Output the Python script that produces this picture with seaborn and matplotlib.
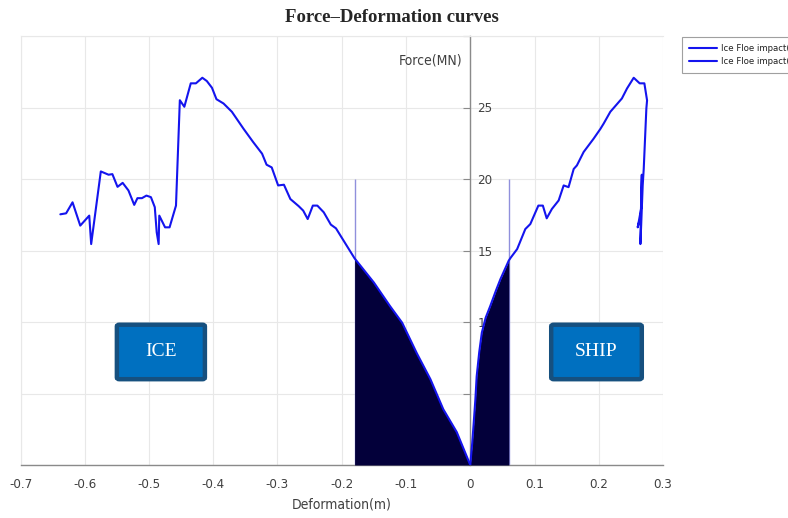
import matplotlib
matplotlib.use("Agg")
import matplotlib.pyplot as plt
from matplotlib import font_manager
from matplotlib.patches import FancyBboxPatch
import pandas as pd
import seaborn as sns

# Ice-side force-deformation curve (deformation in m, force in MN)
ice_x = [-0.638, -0.629, -0.619, -0.607, -0.593, -0.590, -0.575, -0.563, -0.557,
         -0.549, -0.541, -0.532, -0.523, -0.518, -0.511, -0.504, -0.497, -0.491,
         -0.488, -0.485, -0.484, -0.475, -0.468, -0.458, -0.452, -0.445, -0.435,
         -0.427, -0.417, -0.410, -0.402, -0.395, -0.384, -0.371, -0.353, -0.338,
         -0.324, -0.317, -0.309, -0.299, -0.290, -0.280, -0.267, -0.260, -0.253,
         -0.245, -0.238, -0.228, -0.217, -0.209, -0.197, -0.180, -0.150, -0.125,
         -0.106, -0.083, -0.062, -0.042, -0.021, 0.0]
ice_y = [17.53, 17.60, 18.37, 16.74, 17.44, 15.45, 20.53, 20.30, 20.34,
         19.45, 19.73, 19.20, 18.19, 18.66, 18.66, 18.84, 18.73, 18.03,
         16.27, 15.45, 17.44, 16.62, 16.62, 18.14, 25.51, 25.05, 26.69,
         26.69, 27.08, 26.85, 26.38, 25.58, 25.28, 24.70, 23.52, 22.59,
         21.77, 21.00, 20.81, 19.55, 19.60, 18.60, 18.10, 17.79, 17.20,
         18.14, 18.14, 17.67, 16.81, 16.55, 15.68, 14.45, 12.76, 11.12,
         9.95, 7.80, 6.00, 3.90, 2.30, 0.0]

# Ship-side force-deformation curve
ship_x = [0.0, 0.003, 0.005, 0.008, 0.010, 0.014, 0.018, 0.024, 0.031, 0.040,
          0.047, 0.055, 0.060, 0.063, 0.073, 0.0857, 0.0935, 0.106, 0.113,
          0.119, 0.127, 0.1376, 0.1454, 0.153, 0.161, 0.166, 0.1765, 0.192,
          0.2025, 0.2077, 0.218, 0.236, 0.244, 0.2544, 0.2637, 0.271, 0.2752,
          0.2741, 0.2700, 0.2684, 0.2660, 0.2648, 0.2655, 0.2670, 0.2662,
          0.2630, 0.2606, 0.2628]
ship_y = [0.0, 1.5, 2.7, 4.6, 6.2, 7.9, 9.25, 10.3, 11.1, 12.2,
          13.0, 13.8, 14.3, 14.5, 15.1, 16.5, 16.85, 18.14, 18.14,
          17.25, 17.9, 18.5, 19.55, 19.43, 20.7, 20.95, 21.89, 22.82,
          23.5, 23.88, 24.7, 25.63, 26.33, 27.08, 26.69, 26.69, 25.5,
          24.93, 20.7, 19.55, 16.74, 15.45, 17.5, 20.3, 18.0,
          17.2, 16.62, 17.0]

series_labels = ["Ice Floe impact(Ship)", "Ice Floe impact(Ice)"]
ice_limit = -0.18      # shaded ice deformation range starts here
ship_limit = 0.06      # shaded ship deformation range ends here
guide_top = 20

x_ticks = [-0.7, -0.6, -0.5, -0.4, -0.3, -0.2, -0.1, 0.0, 0.1, 0.2, 0.3]
x_tick_labels = ["-0.7", "-0.6", "-0.5", "-0.4", "-0.3", "-0.2", "-0.1", "0", "0.1", "0.2", "0.3"]
y_ticks = [0, 5, 10, 15, 20, 25, 30]
y_tick_labels = ["", "5", "10", "15", "20", "25", ""]

sns.set_theme(style="whitegrid")

# Prefer a narrow sans face for the axis texts when one is installed
installed = font_manager.fontManager.ttflist
names = {f.name for f in installed}
narrow = {}
if "Liberation Sans Narrow" in names:
    narrow = {"family": ["Liberation Sans Narrow", "DejaVu Sans"]}
elif any(f.name == "DejaVu Sans" and f.stretch == "condensed" for f in installed):
    narrow = {"family": ["DejaVu Sans"], "stretch": "condensed"}
elif "Roboto Condensed" in names:
    narrow = {"family": ["Roboto Condensed", "DejaVu Sans"]}
else:
    narrow = {"family": ["Liberation Sans", "DejaVu Sans"]}
plt.rcParams["font.family"] = narrow["family"]
if "stretch" in narrow:
    plt.rcParams["font.stretch"] = narrow["stretch"]

ice_df = pd.DataFrame({"x": ice_x, "y": ice_y})
ship_df = pd.DataFrame({"x": ship_x, "y": ship_y})

fig = plt.figure(figsize=(7.88, 5.18), dpi=100)
ax = fig.add_axes([20.5 / 788, 53 / 518, 642.5 / 788, 429 / 518])

line_color = "#1414ee"
fill_color = "#03003a"
text_color = "#404040"

sns.lineplot(data=ship_df, x="x", y="y", sort=False, estimator=None, color=line_color,
             lw=1.5, label=series_labels[0], ax=ax, zorder=4)
sns.lineplot(data=ice_df, x="x", y="y", sort=False, estimator=None, color=line_color,
             lw=1.5, label=series_labels[1], ax=ax, zorder=4)

# Shaded energy regions under each curve
ice_part = ice_df[ice_df["x"] >= ice_limit]
ship_part = ship_df[ship_df["x"] <= ship_limit]
ax.fill_between(ice_part["x"], 0, ice_part["y"], color=fill_color, lw=0, zorder=3)
ax.fill_between(ship_part["x"], 0, ship_part["y"], color=fill_color, lw=0, zorder=3)
ax.vlines([ice_limit, ship_limit], 0, guide_top, colors="#9090dc", lw=1.0, zorder=2.8)

ax.set_xlim(-0.7, 0.3)
ax.set_ylim(0, 30)
ax.set_xticks(x_ticks)
ax.set_xticklabels(x_tick_labels)
ax.set_yticks(y_ticks)
ax.set_yticklabels(y_tick_labels)
ax.grid(True, color="#e8e8e8", lw=0.8)

# y axis through the origin, labels to its right
ax.yaxis.tick_right()
ax.spines["right"].set_position(("data", 0))
ax.spines["right"].set_color("#8a8a8a")
ax.spines["right"].set_linewidth(1.0)
ax.spines["bottom"].set_color("#8a8a8a")
ax.spines["bottom"].set_linewidth(1.0)
for side in ("left", "top"):
    ax.spines[side].set_color("#e8e8e8")
    ax.spines[side].set_linewidth(0.8)

ax.tick_params(axis="y", direction="in", length=5, width=0.8, pad=5,
               color="#8a8a8a", labelcolor=text_color, labelsize=9.5)
ax.tick_params(axis="x", direction="in", length=6, width=0.8, pad=9,
               color="#8a8a8a", labelcolor=text_color, labelsize=9.5)

ax.set_xlabel("Deformation(m)", fontsize=10, color=text_color)
ax.xaxis.set_label_coords(0.5, -0.075)
ax.set_ylabel("")
ax.text(0.687, 0.944, "Force(MN)", transform=ax.transAxes, ha="right", va="center",
        fontsize=10, color=text_color)

# Region tags
for label, (x0, x1) in {"ICE": (0.150, 0.287), "SHIP": (0.826, 0.967)}.items():
    y0, y1 = 0.200, 0.327
    box = FancyBboxPatch((x0, y0), x1 - x0, y1 - y0,
                         boxstyle="round,pad=0,rounding_size=0.004",
                         transform=ax.transAxes, fc="#0070c0", ec="#16507f",
                         lw=3.2, zorder=6)
    ax.add_patch(box)
    ax.text((x0 + x1) / 2, (y0 + y1) / 2, label, transform=ax.transAxes,
            ha="center", va="center", color="white", fontsize=14, zorder=7,
            family=["Liberation Serif", "DejaVu Serif"], stretch="normal")

# Legend sits against the right edge of the figure
leg = ax.legend(loc="upper left", bbox_to_anchor=(682 / 788, 1 - 37 / 518),
                bbox_transform=fig.transFigure, frameon=True, fancybox=False,
                edgecolor="#a0a0a0", framealpha=1, fontsize=6.8, handlelength=3.0,
                borderpad=0.75, labelspacing=0.45, handletextpad=0.4, borderaxespad=0)
leg.get_frame().set_linewidth(0.8)
for t in leg.get_texts():
    t.set_color("#202020")

fig.text(0.497, 1 - 18 / 518, "Force\u2013Deformation curves", ha="center", va="center",
         fontsize=13.5, fontweight="bold", family=["Liberation Serif", "DejaVu Serif"],
         stretch="normal")

fig.savefig("out.png", dpi=100)
